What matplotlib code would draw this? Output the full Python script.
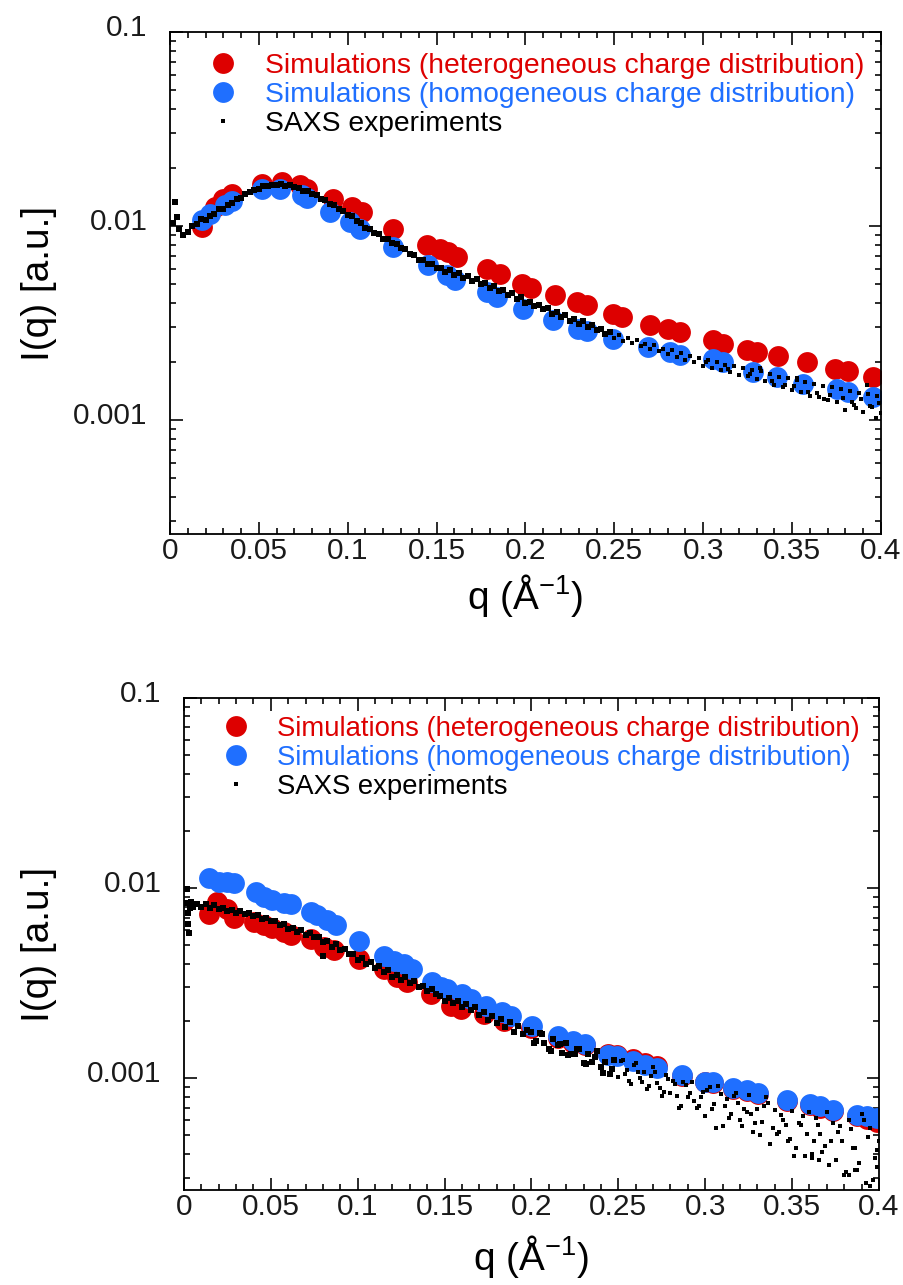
import numpy as np
import matplotlib
matplotlib.use("Agg")
from matplotlib import pyplot as plt
from matplotlib.ticker import MultipleLocator, FixedLocator, FuncFormatter, LogLocator, NullFormatter
from matplotlib.transforms import ScaledTranslation

plt.rcParams['font.family'] = ['Liberation Sans', 'DejaVu Sans']
plt.rcParams['mathtext.default'] = 'regular'

RED = '#dd0000'
BLUE = '#1f6fff'

labels = ["Simulations (heterogeneous charge distribution)",
          "Simulations (homogeneous charge distribution)",
          "SAXS experiments"]

# ---- top panel ----
q_het_top = [0.0178, 0.0253, 0.0300, 0.0347, 0.0516, 0.0628, 0.0731, 0.0769, 0.0919, 0.1022,
             0.1078, 0.1257, 0.1444, 0.1519, 0.1565, 0.1613, 0.1782, 0.1857, 0.1978, 0.2030,
             0.2166, 0.2288, 0.2344, 0.2494, 0.2541, 0.2700, 0.2804, 0.2869, 0.3057, 0.3113,
             0.3244, 0.3301, 0.3422, 0.3582, 0.3741, 0.3816, 0.3957]
I_het_top = [0.0099, 0.01254, 0.01384, 0.01468, 0.01652, 0.01687, 0.01622, 0.01556, 0.01384, 0.01254,
             0.0118, 0.00962, 0.00795, 0.00764, 0.0073, 0.00692, 0.00602, 0.00568, 0.00504, 0.0048,
             0.0044, 0.00406, 0.00393, 0.00353, 0.0034, 0.00308, 0.00296, 0.00284, 0.00258, 0.00247,
             0.00229, 0.00224, 0.00214, 0.00199, 0.00184, 0.00178, 0.00167]

q_hom_top = [0.0178, 0.0225, 0.0309, 0.0350, 0.0516, 0.0619, 0.0741, 0.0770, 0.0900, 0.1013,
             0.1069, 0.1257, 0.1453, 0.1557, 0.1603, 0.1782, 0.1838, 0.1988, 0.2157, 0.2297,
             0.2344, 0.2494, 0.2691, 0.2813, 0.2869, 0.3057, 0.3113, 0.3282, 0.3413, 0.3563,
             0.3750, 0.3816, 0.3957]
I_hom_top = [0.0107, 0.01157, 0.0128, 0.0135, 0.01556, 0.01556, 0.01439, 0.0140, 0.0118, 0.0105,
             0.00969, 0.0078, 0.00627, 0.00557, 0.00525, 0.00457, 0.00431, 0.00375, 0.00327, 0.00296,
             0.00287, 0.00262, 0.00238, 0.00224, 0.00217, 0.00207, 0.00199, 0.00177, 0.00167, 0.00154,
             0.00145, 0.00139, 0.00131]

q_exp_top = [0.0015, 0.0028, 0.0038, 0.005, 0.0075, 0.01, 0.0125, 0.015, 0.0175, 0.02, 0.0225,
             0.025, 0.0275, 0.03, 0.0325, 0.035, 0.0375, 0.04, 0.0425, 0.045, 0.0475,
             0.05, 0.0525, 0.055, 0.0575, 0.06, 0.0625, 0.065, 0.0675, 0.07, 0.0725,
             0.075, 0.0775, 0.08, 0.0825, 0.085, 0.0875, 0.09, 0.0925, 0.095, 0.0975,
             0.1, 0.1025, 0.105, 0.1075, 0.11, 0.1125, 0.115, 0.1175, 0.12, 0.1225,
             0.125, 0.1275, 0.13, 0.1325, 0.135, 0.1375, 0.14, 0.1425, 0.145, 0.1475,
             0.15, 0.1525, 0.155, 0.1575, 0.16, 0.1625, 0.165, 0.1675, 0.17, 0.1725,
             0.175, 0.1775, 0.18, 0.1825, 0.185, 0.1875, 0.19, 0.1925, 0.195, 0.1975,
             0.2, 0.2025, 0.205, 0.2075, 0.21, 0.2125, 0.215, 0.2175, 0.22, 0.2225,
             0.225, 0.2275, 0.23, 0.2325, 0.235, 0.2375, 0.24, 0.2425, 0.245, 0.2475,
             0.25, 0.2525, 0.255, 0.2575, 0.26, 0.2625, 0.265, 0.2675, 0.27, 0.2725,
             0.275, 0.2775, 0.28, 0.2825, 0.285, 0.2875, 0.29, 0.2925, 0.295, 0.2975,
             0.3, 0.3025, 0.305, 0.3075, 0.31, 0.3125, 0.315, 0.3175, 0.32, 0.3225,
             0.325, 0.3275, 0.33, 0.3325, 0.335, 0.3375, 0.34, 0.3425, 0.345, 0.3475,
             0.35, 0.3525, 0.355, 0.3575, 0.36, 0.3625, 0.365, 0.3675, 0.37, 0.3725,
             0.375, 0.3775, 0.38, 0.3825, 0.385, 0.3875, 0.39, 0.3925, 0.395, 0.3975,
             0.4, 0.332, 0.353, 0.368, 0.386, 0.392, 0.397,
             0.3013, 0.3138, 0.3263, 0.3388, 0.3463, 0.3513, 0.3588, 0.3638, 0.3713, 0.3788,
             0.3838, 0.3888, 0.3938, 0.3988]
I_exp_top = [0.0104, 0.0133, 0.0111, 0.0096, 0.0090, 0.0093, 0.0100, 0.0102, 0.0108, 0.0107, 0.0112,
             0.0115, 0.0122, 0.0122, 0.0129, 0.0131, 0.0137, 0.0139, 0.0146, 0.0149, 0.0154,
             0.0155, 0.0160, 0.0160, 0.0163, 0.0162, 0.0164, 0.0161, 0.0162, 0.0158, 0.0157,
             0.0152, 0.0151, 0.0146, 0.0144, 0.0138, 0.0136, 0.0130, 0.0128, 0.0122, 0.0120,
             0.0114, 0.0112, 0.0106, 0.0103, 0.0098, 0.0097, 0.0092, 0.0091, 0.0086, 0.0086,
             0.0082, 0.0081, 0.0077, 0.0076, 0.0072, 0.0071, 0.0067, 0.0067, 0.0064, 0.0064,
             0.0061, 0.0061, 0.0058, 0.0059, 0.0056, 0.0057, 0.0054, 0.0055, 0.0052, 0.0053,
             0.0050, 0.0051, 0.0048, 0.0049, 0.0046, 0.0047, 0.0044, 0.0045, 0.0042, 0.0043,
             0.0040, 0.00405, 0.00385, 0.00392, 0.00372, 0.00376, 0.00352, 0.00360, 0.00340, 0.00346,
             0.00325, 0.00333, 0.00313, 0.00322, 0.00300, 0.00308, 0.00290, 0.00296, 0.00276, 0.00285,
             0.00266, 0.00275, 0.00256, 0.00266, 0.00248, 0.00258, 0.00240, 0.00247, 0.00233, 0.00243,
             0.00226, 0.00233, 0.00218, 0.00228, 0.00212, 0.00222, 0.00203, 0.00214, 0.00198, 0.00208,
             0.00190, 0.00203, 0.00185, 0.00198, 0.00180, 0.00193, 0.00176, 0.00190, 0.00171, 0.00186,
             0.00168, 0.00181, 0.00162, 0.00178, 0.00158, 0.00172, 0.00152, 0.00167, 0.00148, 0.00165,
             0.00143, 0.00160, 0.00139, 0.00157, 0.00133, 0.00154, 0.00131, 0.00150, 0.00126, 0.00148,
             0.00124, 0.00144, 0.00112, 0.00141, 0.00120, 0.00138, 0.00110, 0.00136, 0.00116, 0.00133,
             0.00108, 0.00185, 0.00165, 0.00128, 0.00115, 0.00152, 0.00102,
             0.00200, 0.00182, 0.00173, 0.00158, 0.00152, 0.00149, 0.00140, 0.00138, 0.00135, 0.00130,
             0.00123, 0.00128, 0.00118, 0.00122]

# ---- bottom panel ----
q_het_bot = [0.0144, 0.0192, 0.0249, 0.0288, 0.0403, 0.0460, 0.0508, 0.0576, 0.0614, 0.0729,
             0.0806, 0.0863, 0.1007, 0.1151, 0.1228, 0.1285, 0.1420, 0.1535, 0.1593, 0.1727,
             0.1842, 0.1995, 0.2154, 0.2241, 0.2308, 0.2442, 0.2490, 0.2586, 0.2653, 0.2721,
             0.2864, 0.2999, 0.3046, 0.3161, 0.3238, 0.3305, 0.3469, 0.3603, 0.3660, 0.3737,
             0.3872, 0.3929, 0.3987]
I_het_bot = [0.00734, 0.00847, 0.00781, 0.00692, 0.00664, 0.00637, 0.0062, 0.00587, 0.00564, 0.00542,
             0.0049, 0.0047, 0.00425, 0.00376, 0.0034, 0.00319, 0.00277, 0.0024, 0.00232, 0.00217,
             0.0020, 0.00183, 0.00163, 0.00154, 0.00149, 0.00134, 0.00133, 0.00126, 0.0012, 0.00116,
             0.00103, 0.00095, 0.00094, 0.00088, 0.00086, 0.00083, 0.00076, 0.00072, 0.0007, 0.00067,
             0.00063, 0.00061, 0.00059]

q_hom_bot = [0.0144, 0.0201, 0.0249, 0.0288, 0.0412, 0.0460, 0.0508, 0.0576, 0.0614, 0.0729,
             0.0767, 0.0825, 0.0873, 0.1007, 0.1151, 0.1209, 0.1266, 0.1314, 0.1429, 0.1477,
             0.1516, 0.1602, 0.1650, 0.1736, 0.1832, 0.1880, 0.2005, 0.2154, 0.2241, 0.2308,
             0.2442, 0.2490, 0.2586, 0.2653, 0.2721, 0.2864, 0.2999, 0.3046, 0.3161, 0.3238,
             0.3305, 0.3469, 0.3603, 0.3660, 0.3737, 0.3872, 0.3929, 0.3987]
I_hom_bot = [0.01125, 0.0108, 0.0108, 0.0106, 0.00957, 0.00899, 0.00864, 0.0083, 0.0082, 0.0075,
             0.0072, 0.00677, 0.00637, 0.0053, 0.00442, 0.00416, 0.0040, 0.00376, 0.00319, 0.0030,
             0.00295, 0.00277, 0.00261, 0.0024, 0.00222, 0.00213, 0.00188, 0.00167, 0.00157, 0.00151,
             0.00133, 0.00131, 0.00123, 0.00118, 0.00113, 0.00104, 0.00096, 0.00095, 0.00089, 0.00087,
             0.00084, 0.00077, 0.00073, 0.00071, 0.00068, 0.00064, 0.00063, 0.00062]

q_exp_bot = [0.0015, 0.0018, 0.0022, 0.0025, 0.003, 0.0035, 0.004,
             0.005, 0.0075, 0.01, 0.0125, 0.015, 0.0175, 0.02, 0.0225,
             0.025, 0.0275, 0.03, 0.0325, 0.035, 0.0375, 0.04, 0.0425, 0.045, 0.0475,
             0.05, 0.0525, 0.055, 0.0575, 0.06, 0.0625, 0.065, 0.0675, 0.07, 0.0725,
             0.075, 0.0775, 0.08, 0.0825, 0.085, 0.0875, 0.09, 0.0925, 0.095, 0.0975,
             0.1, 0.1025, 0.105, 0.1075, 0.11, 0.1125, 0.115, 0.1175, 0.12, 0.1225,
             0.125, 0.1275, 0.13, 0.1325, 0.135, 0.1375, 0.14, 0.1425, 0.145, 0.1475,
             0.15, 0.1525, 0.155, 0.1575, 0.16, 0.1625, 0.165, 0.1675, 0.17, 0.1725,
             0.175, 0.1775, 0.18, 0.1825, 0.185, 0.1875, 0.19, 0.1925, 0.195, 0.1975,
             0.2, 0.2025, 0.205, 0.2075, 0.21, 0.2125, 0.215, 0.2175, 0.22, 0.2225,
             0.225, 0.2275, 0.23, 0.2325, 0.235, 0.2375, 0.24, 0.2425, 0.245, 0.2475,
             0.25, 0.2525, 0.255, 0.2575, 0.26, 0.2625, 0.265, 0.2675, 0.27, 0.2725,
             0.275, 0.2775, 0.28, 0.2825, 0.285, 0.2875, 0.29, 0.2925, 0.295, 0.2975,
             0.3, 0.3025, 0.305, 0.3075, 0.31, 0.3125, 0.315, 0.3175, 0.32, 0.3225,
             0.325, 0.3275, 0.33, 0.3325, 0.335, 0.3375, 0.34, 0.3425, 0.345, 0.3475,
             0.35, 0.3525, 0.355, 0.3575, 0.36, 0.3625, 0.365, 0.3675, 0.37, 0.3725,
             0.375, 0.3775, 0.38, 0.3825, 0.385, 0.3875, 0.39, 0.3925, 0.395, 0.3975,
             0.4, 0.080,
             0.2013, 0.2063, 0.2113, 0.2163, 0.2213, 0.2263, 0.2313, 0.2363, 0.2413, 0.2463,
             0.2513, 0.2563, 0.2613, 0.2663, 0.2713, 0.2763, 0.2813, 0.2863, 0.2913, 0.2963,
             0.3013, 0.3063, 0.3113, 0.3163, 0.3213, 0.3263, 0.3313, 0.3363, 0.3413, 0.3463,
             0.3513, 0.3563, 0.3613, 0.3663, 0.3713, 0.3763, 0.3813, 0.3863, 0.3913, 0.3963,
             0.2538, 0.2588, 0.2638, 0.2688, 0.2738, 0.2788, 0.2838, 0.2888, 0.2938, 0.2988,
             0.3038, 0.3088, 0.3138, 0.3188, 0.3238, 0.3288, 0.3338, 0.3388, 0.3438, 0.3488,
             0.3538, 0.3588, 0.3638, 0.3688, 0.3738, 0.3788, 0.3838, 0.3888, 0.3938, 0.3988,
             0.3615, 0.3655, 0.3825, 0.3860, 0.3950, 0.3990]
I_exp_bot = [0.0099, 0.0083, 0.0074, 0.0065, 0.0058, 0.0079, 0.0085,
             0.0080, 0.0082, 0.0080, 0.0082, 0.0079, 0.0081, 0.0078, 0.0079,
             0.0076, 0.0077, 0.0074, 0.0076, 0.0073, 0.0074, 0.0071, 0.0072, 0.0069, 0.0070,
             0.0067, 0.0067, 0.0064, 0.0065, 0.0061, 0.0062, 0.0059, 0.0060, 0.0057, 0.0058,
             0.0055, 0.0055, 0.0052, 0.0053, 0.0049, 0.0051, 0.0047, 0.0048, 0.0045, 0.0045,
             0.0042, 0.0043, 0.0040, 0.0041, 0.0038, 0.0039, 0.0036, 0.0037, 0.0034, 0.0035,
             0.00330, 0.00340, 0.00315, 0.00325, 0.00300, 0.00305, 0.00288, 0.00296, 0.00278, 0.00270,
             0.00255, 0.00265, 0.00248, 0.00256, 0.00236, 0.00246, 0.00228, 0.00237, 0.00214, 0.00222,
             0.00203, 0.00213, 0.00195, 0.00205, 0.00185, 0.00197, 0.00176, 0.00188, 0.00170, 0.00180,
             0.00175, 0.00157, 0.00172, 0.00153, 0.00143, 0.00160, 0.00149, 0.00136, 0.00154, 0.00134,
             0.00134, 0.00143, 0.00120, 0.00134, 0.00122, 0.00139, 0.00114, 0.00121, 0.00105, 0.00125,
             0.00101, 0.00124, 0.00111, 0.00093, 0.00120, 0.00100, 0.00108, 0.00091, 0.00114, 0.00094,
             0.00081, 0.00104, 0.00084, 0.00093, 0.00070, 0.00095, 0.00080, 0.00095, 0.00070, 0.00080,
             0.00063, 0.00090, 0.00073, 0.00091, 0.00056, 0.00078, 0.00065, 0.00084, 0.00060, 0.00069,
             0.00082, 0.00052, 0.00069, 0.00059, 0.00080, 0.00045, 0.00068, 0.00052, 0.00060, 0.00047,
             0.00067, 0.00043, 0.00057, 0.00039, 0.00066, 0.00047, 0.00057, 0.00041, 0.00066, 0.00047,
             0.00037, 0.00056, 0.00031, 0.00060, 0.00043, 0.00033, 0.00065, 0.00028, 0.00055, 0.00038,
             0.00047, 0.00442,
             0.00154, 0.00170, 0.00139, 0.00152, 0.00133, 0.00142, 0.00119, 0.00130, 0.00107, 0.00112,
             0.00123, 0.00097, 0.00108, 0.00088, 0.00108, 0.00085, 0.00097, 0.00071, 0.00084, 0.00071,
             0.00087, 0.00055, 0.00071, 0.00081, 0.00056, 0.00065, 0.00050, 0.00074, 0.00051, 0.00057,
             0.00039, 0.00063, 0.00040, 0.00051, 0.00035, 0.00052, 0.00032, 0.00043, 0.00060, 0.00029,
             0.00105, 0.00118, 0.00096, 0.00103, 0.00089, 0.00099, 0.00081, 0.00092, 0.00076, 0.00085,
             0.00069, 0.00083, 0.00062, 0.00074, 0.00066, 0.00058, 0.00071, 0.00055, 0.00064, 0.00048,
             0.00058, 0.00051, 0.00062, 0.00044, 0.00058, 0.00047, 0.00054, 0.00036, 0.00049, 0.00042,
             0.00038, 0.00037, 0.00031, 0.00033, 0.00027, 0.00034]

x_ticks = [0, 0.05, 0.1, 0.15, 0.2, 0.25, 0.3, 0.35, 0.4]
y_ticks = [0.001, 0.01, 0.1]


def panel(fig, rect, q_het, I_het, q_hom, I_hom, q_exp, I_exp, leg_xy, leg_size, ylab_x, xlab_y):
    ax = fig.add_axes(rect)
    ax.plot(q_het, I_het, 'o', color=RED, ms=15, mew=0, label=labels[0])
    ax.plot(q_hom, I_hom, 'o', color=BLUE, ms=15, mew=0, label=labels[1])
    q_exp = np.asarray(q_exp)
    I_exp = np.asarray(I_exp)
    # dense low-q part merges into a band, the noisy tail shows single dots
    dense = q_exp < 0.25
    ax.plot(q_exp[dense], I_exp[dense], 's', color='black', ms=4.2, mew=0, label=labels[2])
    ax.plot(q_exp[~dense], I_exp[~dense], 's', color='black', ms=3.0, mew=0)
    ax.set_yscale('log')
    ax.set_xlim(0, 0.4)
    ax.set_ylim(2.58e-4, 0.1)
    ax.xaxis.set_major_locator(FixedLocator(x_ticks))
    ax.xaxis.set_minor_locator(MultipleLocator(0.01))
    ax.xaxis.set_major_formatter(FuncFormatter(lambda v, p: '%g' % v))
    ax.yaxis.set_major_locator(FixedLocator(y_ticks))
    ax.yaxis.set_minor_locator(LogLocator(base=10, subs=range(2, 10)))
    ax.yaxis.set_major_formatter(FuncFormatter(lambda v, p: '%g' % v))
    ax.yaxis.set_minor_formatter(NullFormatter())
    ax.tick_params(which='both', direction='in', top=True, right=True, width=1.3, colors='#1a1a1a')
    ax.tick_params(which='major', length=9, labelsize=21.5)
    ax.tick_params(which='minor', length=4.5)
    ax.tick_params(axis='x', which='major', pad=2)
    ax.tick_params(axis='y', which='major', pad=16)
    for s in ax.spines.values():
        s.set_linewidth(1.3)
    # labels sit a little above their ticks in the original
    shift = ScaledTranslation(0, 0.07, fig.dpi_scale_trans)
    for t in ax.get_yticklabels():
        t.set_transform(t.get_transform() + shift)
    ax.set_ylabel('I(q) [a.u.]', fontsize=28)
    ax.yaxis.set_label_coords(ylab_x, 0.5)
    ax.set_xlabel('q (Å$^{-1}$)', fontsize=28)
    ax.xaxis.set_label_coords(0.5, xlab_y)
    leg = ax.legend(loc='upper left', bbox_to_anchor=leg_xy, frameon=False, fontsize=leg_size,
                    handlelength=1.0, handletextpad=1.0, borderpad=0, borderaxespad=0,
                    labelspacing=0.1, labelcolor=[RED, BLUE, 'black'])
    leg.legend_handles[2].set_markersize(3.0)
    return ax


fig = plt.figure(figsize=(9.04, 12.85), dpi=100)
panel(fig, [0.188, 0.5844, 0.7865, 0.3907],
      q_het_top, I_het_top, q_hom_top, I_hom_top, q_exp_top, I_exp_top,
      (0.0546, 0.958), 20.3, -0.159, -0.076)
panel(fig, [0.2035, 0.0739, 0.7688, 0.3829],
      q_het_bot, I_het_bot, q_hom_bot, I_hom_bot, q_exp_bot, I_exp_bot,
      (0.0544, 0.9634), 19.8, -0.183, -0.087)

fig.savefig('out.png', dpi=100, facecolor='white')
